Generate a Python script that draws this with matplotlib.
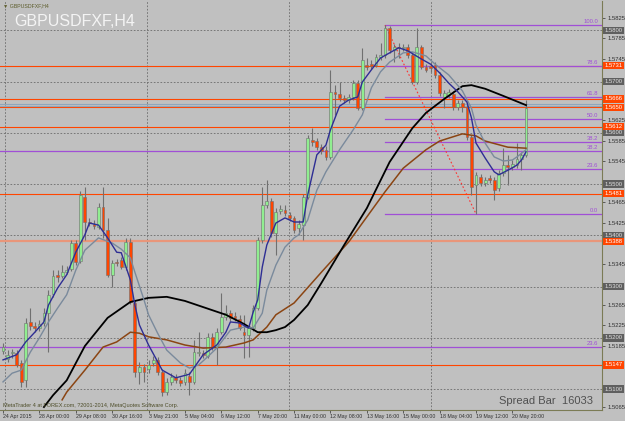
import matplotlib
matplotlib.use("Agg")
import matplotlib.pyplot as plt
import matplotlib.transforms as mtransforms

# H4 candles, bar 0 = 24 Apr 2015
opens = [1.5174, 1.5159, 1.5170, 1.5170, 1.5151, 1.5118, 1.5231, 1.5223, 1.5219, 1.5229,
         1.5248, 1.5286, 1.5323, 1.5321, 1.5328, 1.5334, 1.5385, 1.5350, 1.5475, 1.5426,
         1.5422, 1.5416, 1.5455, 1.5410, 1.5323, 1.5348, 1.5352, 1.5338, 1.5387, 1.5268,
         1.5133, 1.5143, 1.5139, 1.5151, 1.5157, 1.5133, 1.5094, 1.5114, 1.5124, 1.5118,
         1.5114, 1.5126, 1.5114, 1.5170, 1.5170, 1.5165, 1.5202, 1.5182, 1.5211, 1.5241,
         1.5248, 1.5243, 1.5237, 1.5211, 1.5206, 1.5219, 1.5258, 1.5391, 1.5459, 1.5467,
         1.5405, 1.5447, 1.5449, 1.5440, 1.5434, 1.5414, 1.5420, 1.5475, 1.5586, 1.5584,
         1.5572, 1.5567, 1.5553, 1.5680, 1.5676, 1.5668, 1.5664, 1.5670, 1.5697, 1.5648,
         1.5732, 1.5734, 1.5732, 1.5748, 1.5752, 1.5805, 1.5762, 1.5767, 1.5766, 1.5767,
         1.5752, 1.5699, 1.5767, 1.5728, 1.5730, 1.5732, 1.5713, 1.5670, 1.5674, 1.5676,
         1.5650, 1.5658, 1.5650, 1.5592, 1.5498, 1.5514, 1.5502, 1.5512, 1.5508, 1.5492,
         1.5522, 1.5537, 1.5533, 1.5537, 1.5549, 1.5557]
highs = [1.5190, 1.5176, 1.5178, 1.5176, 1.5157, 1.5239, 1.5258, 1.5231, 1.5235, 1.5258,
         1.5293, 1.5332, 1.5332, 1.5342, 1.5340, 1.5391, 1.5391, 1.5487, 1.5494, 1.5434,
         1.5430, 1.5463, 1.5494, 1.5434, 1.5352, 1.5354, 1.5358, 1.5395, 1.5395, 1.5274,
         1.5153, 1.5149, 1.5157, 1.5165, 1.5163, 1.5139, 1.5122, 1.5131, 1.5129, 1.5124,
         1.5139, 1.5133, 1.5196, 1.5211, 1.5176, 1.5209, 1.5209, 1.5219, 1.5287, 1.5264,
         1.5254, 1.5250, 1.5245, 1.5245, 1.5225, 1.5264, 1.5397, 1.5494, 1.5508, 1.5473,
         1.5453, 1.5459, 1.5459, 1.5446, 1.5438, 1.5430, 1.5481, 1.5596, 1.5609, 1.5590,
         1.5578, 1.5574, 1.5723, 1.5693, 1.5699, 1.5674, 1.5676, 1.5703, 1.5703, 1.5766,
         1.5746, 1.5742, 1.5754, 1.5775, 1.5810, 1.5808, 1.5773, 1.5775, 1.5773, 1.5773,
         1.5758, 1.5805, 1.5771, 1.5734, 1.5736, 1.5738, 1.5719, 1.5684, 1.5686, 1.5682,
         1.5664, 1.5664, 1.5656, 1.5596, 1.5524, 1.5520, 1.5514, 1.5518, 1.5514, 1.5527,
         1.5570, 1.5557, 1.5547, 1.5580, 1.5563, 1.5664]
lows = [1.5168, 1.5153, 1.5161, 1.5143, 1.5104, 1.5104, 1.5215, 1.5211, 1.5213, 1.5223,
        1.5172, 1.5280, 1.5309, 1.5317, 1.5325, 1.5330, 1.5342, 1.5346, 1.5391, 1.5418,
        1.5412, 1.5412, 1.5395, 1.5319, 1.5299, 1.5340, 1.5334, 1.5332, 1.5266, 1.5124,
        1.5110, 1.5114, 1.5131, 1.5145, 1.5127, 1.5087, 1.5088, 1.5108, 1.5112, 1.5106,
        1.5108, 1.5088, 1.5110, 1.5165, 1.5161, 1.5161, 1.5176, 1.5147, 1.5207, 1.5235,
        1.5233, 1.5233, 1.5215, 1.5161, 1.5163, 1.5213, 1.5254, 1.5385, 1.5453, 1.5397,
        1.5362, 1.5442, 1.5438, 1.5428, 1.5405, 1.5401, 1.5391, 1.5471, 1.5574, 1.5567,
        1.5559, 1.5547, 1.5549, 1.5635, 1.5662, 1.5658, 1.5658, 1.5664, 1.5645, 1.5645,
        1.5723, 1.5725, 1.5728, 1.5742, 1.5746, 1.5756, 1.5738, 1.5746, 1.5760, 1.5746,
        1.5695, 1.5695, 1.5725, 1.5719, 1.5719, 1.5707, 1.5672, 1.5648, 1.5668, 1.5645,
        1.5645, 1.5641, 1.5586, 1.5479, 1.5442, 1.5496, 1.5496, 1.5502, 1.5469, 1.5487,
        1.5516, 1.5498, 1.5527, 1.5531, 1.5527, 1.5553]
closes = [1.5182, 1.5167, 1.5172, 1.5147, 1.5114, 1.5229, 1.5223, 1.5219, 1.5227, 1.5248,
          1.5284, 1.5321, 1.5319, 1.5328, 1.5332, 1.5385, 1.5348, 1.5479, 1.5426, 1.5424,
          1.5418, 1.5455, 1.5410, 1.5323, 1.5346, 1.5346, 1.5338, 1.5387, 1.5270, 1.5133,
          1.5143, 1.5133, 1.5147, 1.5157, 1.5133, 1.5094, 1.5114, 1.5124, 1.5118, 1.5112,
          1.5131, 1.5114, 1.5172, 1.5172, 1.5167, 1.5202, 1.5182, 1.5211, 1.5241, 1.5248,
          1.5239, 1.5239, 1.5219, 1.5206, 1.5219, 1.5258, 1.5391, 1.5459, 1.5467, 1.5405,
          1.5446, 1.5451, 1.5444, 1.5434, 1.5410, 1.5422, 1.5475, 1.5590, 1.5582, 1.5572,
          1.5565, 1.5553, 1.5680, 1.5676, 1.5668, 1.5664, 1.5670, 1.5697, 1.5648, 1.5742,
          1.5728, 1.5730, 1.5748, 1.5752, 1.5805, 1.5762, 1.5767, 1.5766, 1.5767, 1.5752,
          1.5699, 1.5767, 1.5728, 1.5723, 1.5727, 1.5713, 1.5678, 1.5678, 1.5680, 1.5650,
          1.5658, 1.5650, 1.5592, 1.5494, 1.5518, 1.5502, 1.5508, 1.5508, 1.5488, 1.5522,
          1.5537, 1.5533, 1.5539, 1.5549, 1.5557, 1.5648]

# moving averages (bar index, price)
fast_bars = [0, 3, 5, 7, 9, 10, 12, 14, 16, 18, 19, 21, 23, 25, 26, 28, 29, 30, 32, 35,
             38, 41, 44, 47, 49, 50, 52, 54, 55, 56, 57, 58, 60, 62, 64, 66, 67, 69, 71, 72,
             74, 76, 78, 79, 81, 83, 85, 87, 89, 92, 94, 96, 98, 100, 102, 103, 104, 106,
             108, 109, 111, 113, 114, 115]
fast_ma = [1.5157, 1.5167, 1.5192, 1.5211, 1.5231, 1.5264, 1.5297, 1.5323, 1.5367, 1.5401,
           1.5424, 1.5420, 1.5395, 1.5367, 1.5366, 1.5313, 1.5264, 1.5225, 1.5186, 1.5137,
           1.5122, 1.5129, 1.5167, 1.5186, 1.5211, 1.5231, 1.5229, 1.5219, 1.5250, 1.5274,
           1.5338, 1.5381, 1.5424, 1.5434, 1.5426, 1.5426, 1.5479, 1.5557, 1.5576, 1.5606,
           1.5652, 1.5664, 1.5670, 1.5699, 1.5723, 1.5746, 1.5756, 1.5766, 1.5760, 1.5744,
           1.5734, 1.5717, 1.5697, 1.5680, 1.5660, 1.5629, 1.5580, 1.5551, 1.5524, 1.5518,
           1.5527, 1.5537, 1.5547, 1.5563]
mid_bars = [0, 2, 4, 6, 8, 10, 12, 14, 16, 18, 20, 21, 24, 26, 28, 29, 31, 32, 34, 36,
            39, 41, 43, 45, 47, 50, 53, 55, 57, 58, 60, 62, 64, 65, 67, 69, 71, 74, 77, 79,
            81, 83, 85, 88, 90, 93, 95, 98, 101, 103, 104, 106, 108, 110, 112, 113, 115]
mid_ma = [1.5114, 1.5131, 1.5137, 1.5172, 1.5200, 1.5231, 1.5258, 1.5284, 1.5332, 1.5371,
          1.5387, 1.5395, 1.5385, 1.5373, 1.5356, 1.5328, 1.5274, 1.5245, 1.5209, 1.5176,
          1.5151, 1.5141, 1.5147, 1.5163, 1.5180, 1.5215, 1.5221, 1.5219, 1.5248, 1.5293,
          1.5342, 1.5377, 1.5395, 1.5401, 1.5430, 1.5488, 1.5524, 1.5567, 1.5606, 1.5635,
          1.5688, 1.5719, 1.5738, 1.5756, 1.5758, 1.5750, 1.5734, 1.5713, 1.5682, 1.5648,
          1.5615, 1.5580, 1.5553, 1.5545, 1.5547, 1.5553, 1.5567]
slow_bars = [9, 11, 14, 18, 23, 28, 32, 36, 40, 44, 49, 53, 56, 58, 60, 62, 64, 67, 70,
             75, 80, 85, 90, 93, 97, 101, 103, 106, 110, 115]
slow_ma = [1.5065, 1.5088, 1.5117, 1.5184, 1.5239, 1.5270, 1.5278, 1.5280, 1.5272, 1.5260,
           1.5245, 1.5227, 1.5211, 1.5211, 1.5215, 1.5221, 1.5235, 1.5264, 1.5307, 1.5381,
           1.5453, 1.5543, 1.5609, 1.5639, 1.5666, 1.5691, 1.5693, 1.5686, 1.5672, 1.5654]
long_bars = [13, 14, 18, 22, 25, 28, 30, 32, 36, 40, 44, 49, 53, 55, 58, 60, 64, 70, 76,
             84, 88, 93, 96, 101, 104, 106, 111, 115]
long_ma = [1.5079, 1.5094, 1.5137, 1.5182, 1.5192, 1.5211, 1.5209, 1.5202, 1.5196, 1.5186,
           1.5180, 1.5182, 1.5190, 1.5196, 1.5221, 1.5245, 1.5268, 1.5328, 1.5387, 1.5485,
           1.5531, 1.5567, 1.5584, 1.5598, 1.5594, 1.5584, 1.5572, 1.5570]

# horizontal levels
red_levels = [1.5731, 1.5666, 1.5650, 1.5612, 1.5481, 1.5147]
salmon_level = 1.5389
steel_levels = [1.5657, 1.5653]
grid_levels = [1.5100, 1.5200, 1.5300, 1.5400, 1.5500, 1.5600, 1.5700, 1.5800]
wide_fib = [(1.5565, "38.2"), (1.5182, "23.6")]
fib_start, fib_end = 84, 104
fib_high, fib_low = 1.5810, 1.5442
fib_ratios = [0.0, 23.6, 38.2, 50.0, 61.8, 78.6, 100.0]

tick_bars = [0, 8, 16, 24, 32, 40, 48, 56, 64, 72, 80, 88, 96, 104, 112]
tick_labels = ["24 Apr 2015", "28 Apr 00:00", "29 Apr 08:00", "30 Apr 16:00", "3 May 21:00",
               "5 May 04:00", "6 May 12:00", "7 May 20:00", "11 May 00:00", "12 May 08:00",
               "13 May 16:00", "15 May 00:00", "18 May 04:00", "19 May 12:00", "20 May 20:00"]
# scale labels that are not covered by a price box
price_ticks = [1.5065, 1.5185, 1.5225, 1.5265, 1.5345, 1.5425, 1.5465, 1.5545, 1.5585,
               1.5625, 1.5745, 1.5785, 1.5825]

BG = "#c0c0c0"
plt.rcParams["font.family"] = ["Liberation Sans", "DejaVu Sans"]

fig = plt.figure(figsize=(6.25, 4.21), dpi=100, facecolor=BG)
ax = fig.add_axes([0.0, 11 / 421, 602 / 625, 409 / 421], facecolor=BG)
ax.set_xlim(-0.66, 131.7)
ax.set_ylim(1.50592, 1.58572)

# grid
for g in grid_levels:
    ax.axhline(g, color="#6a6a6a", lw=0.6, ls=(0, (2, 2)), zorder=1)
for gx in [0.44, 31.7, 62.9, 94.1]:
    ax.axvline(gx, color="#6a6a6a", lw=0.6, ls=(0, (2, 2)), zorder=1)

# user lines
for lv in red_levels:
    ax.axhline(lv, color="#ff4500", lw=0.8, zorder=1.5)
ax.axhline(salmon_level, color="#e9967a", lw=1.6, zorder=1.5)
for lv in steel_levels:
    ax.axhline(lv, color="#8fa6bc", lw=0.8, zorder=1.5)

purple = "#a04fd6"
for lv, lab in wide_fib:
    ax.axhline(lv, color=purple, lw=0.9, zorder=1.5)
    ax.text(130.8, lv + 0.0002, lab, color=purple, fontsize=4.2, ha="right", va="bottom")

rng = fib_high - fib_low
for r in fib_ratios:
    lv = fib_low + rng * r / 100
    ax.plot([fib_start, 131.7], [lv, lv], color=purple, lw=0.9, zorder=1.5)
    ax.text(130.8, lv + 0.0002, f"{r:.1f}", color=purple, fontsize=4.2, ha="right", va="bottom")
ax.plot([fib_start, fib_end], [fib_high, fib_low], color="#ff3030", lw=0.8,
        ls=(0, (1.5, 2)), zorder=1.6)

# candles
bars = list(range(len(opens)))
ax.vlines(bars, lows, highs, color="#707070", lw=0.8, zorder=3)
bottoms = [min(o, c) for o, c in zip(opens, closes)]
heights = [max(abs(c - o), 0.00012) for o, c in zip(opens, closes)]
colors = ["#90ee90" if c >= o else "#ff4500" for o, c in zip(opens, closes)]
ax.bar(bars, heights, bottom=bottoms, width=0.62, color=colors,
       edgecolor="#707070", linewidth=0.4, zorder=4)

# moving averages
ax.plot(long_bars, long_ma, color="#8b4513", lw=1.1, zorder=5)
ax.plot(slow_bars, slow_ma, color="black", lw=1.3, zorder=5)
ax.plot(mid_bars, mid_ma, color="#7a8a9c", lw=1.0, zorder=5)
ax.plot(fast_bars, fast_ma, color="#2e2e94", lw=1.0, zorder=5)

# axes styling
for s in ["top", "left"]:
    ax.spines[s].set_visible(False)
for s in ["right", "bottom"]:
    ax.spines[s].set_color("#7b7b55")
    ax.spines[s].set_linewidth(0.8)
ax.yaxis.tick_right()
ax.set_yticks(price_ticks)
ax.set_yticklabels([f"{p:.4f}" for p in price_ticks])
ax.tick_params(axis="y", direction="out", length=2, width=0.5, pad=2,
               labelsize=4.2, colors="#303030")
ax.set_xticks(tick_bars)
ax.set_xticklabels(tick_labels, ha="left")
ax.tick_params(axis="x", direction="out", length=2, width=0.5, pad=1,
               labelsize=3.8, colors="#303030")

# price boxes on the scale
trans = mtransforms.blended_transform_factory(ax.transAxes, ax.transData)
for g in grid_levels:
    ax.text(1.004, g, f"{g:.4f}", transform=trans, fontsize=4.2, color="#e0e0e0",
            va="center", ha="left", clip_on=False, zorder=10,
            bbox=dict(boxstyle="square,pad=0.2", fc="#5f5f5f", ec="none"))
for lv in red_levels + [1.5388]:
    ax.text(1.004, lv, f"{lv:.4f}", transform=trans, fontsize=4.2, color="white",
            va="center", ha="left", clip_on=False, zorder=11,
            bbox=dict(boxstyle="square,pad=0.2", fc="#ff4500", ec="none"))

# texts
fig.text(14 / 625, 1 - 21 / 421, "GBPUSDFXF,H4", color="#f4f4f4", fontsize=11.5, va="center")
fig.text(3 / 625, 1 - 5.5 / 421, "\u25bc GBPUSDFXF,H4", color="#5c5c2a", fontsize=3.8,
         va="center")
fig.text(3 / 625, 1 - 406 / 421, "MetaTrader 4 at FOREX.com, ?2001-2014, MetaQuotes Software Corp.",
         color="#4e4e2a", fontsize=4, va="center")
fig.text(499 / 625, 1 - 401 / 421, "Spread Bar  16033", color="#505050", fontsize=8,
         va="center")

fig.savefig("out.png", dpi=100, facecolor=BG)
